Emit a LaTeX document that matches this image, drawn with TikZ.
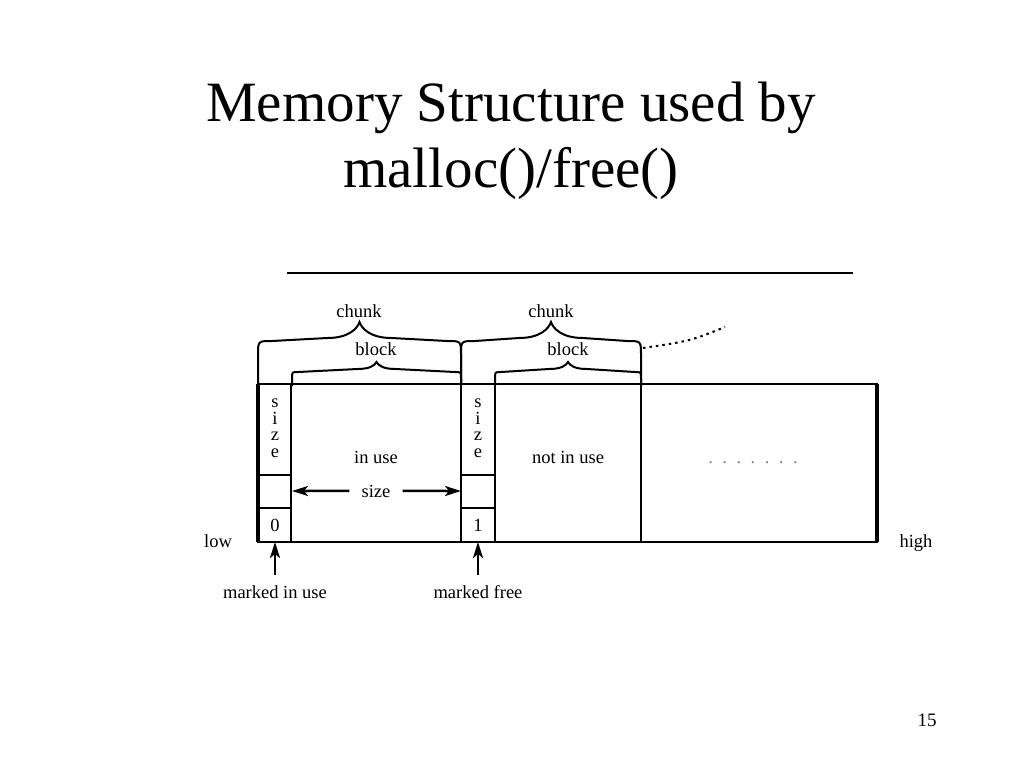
\documentclass[tikz,border=0pt]{standalone}
\usepackage{fontspec}
\setmainfont{Liberation Serif}
\usetikzlibrary{arrows.meta}
\tikzset{
  lbl/.style={inner sep=0pt, anchor=base, font=\fontsize{18.5}{16.5}\selectfont},
  arr/.style={line width=2.5pt, -{Stealth[length=16pt,width=10pt,inset=4pt]}},
  wall/.style={line width=2.2pt},
}
% brace: left x, right x, foot y, shoulder y, tip y, corner, tip width
\newcommand{\membrace}[7]{%
  \draw[line width=2pt] (#1,#3) -- (#1,#4+#6) .. controls (#1,#4) .. (#1+#6,#4)
    -- ({(#1+#2)/2-#7},#4-3) .. controls ({(#1+#2)/2-#7/3},#4-3) and ({(#1+#2)/2-2},{#5+(#4-#5)/3}) .. ({(#1+#2)/2},#5)
    .. controls ({(#1+#2)/2+2},{#5+(#4-#5)/3}) and ({(#1+#2)/2+#7/3},#4-3) .. ({(#1+#2)/2+#7},#4-3)
    -- (#2-#6,#4) .. controls (#2,#4) .. (#2,#4+#6) -- (#2,#3);}
\newcommand{\dotrow}{.\hskip9.5pt.\hskip9.5pt.\hskip9.5pt.\hskip9.5pt.\hskip9.5pt.\hskip9.5pt.}
\begin{document}
\begin{tikzpicture}[x=1pt,y=-1pt]
  \useasboundingbox[fill=white] (0,0) rectangle (1024,768);
  \node (title) [align=center, font=\fontsize{57}{66}\selectfont] at (511,141)
    {Memory Structure used by\\malloc()/free()};
  \draw[line width=2.5pt] (287,273) -- (853,273);
  %
  \membrace{258}{461}{384}{341}{322}{14}{32}
  \membrace{461}{641}{384}{341}{322}{14}{32}
  \membrace{292}{461}{386}{372}{362}{6}{19}
  \membrace{495}{641}{386}{372}{362}{6}{19}
  \draw[line width=2pt, dash pattern=on 2.5pt off 4pt] (643,348) .. controls (690,341) .. (725,327);
  \node (chunka) [lbl] at (359,317) {chunk};
  \node (chunkb) [lbl] at (551,317) {chunk};
  \node (blocka) [lbl] at (376,355) {block};
  \node (blockb) [lbl] at (568,355) {block};
  %
  \draw[line width=1.5pt] (258,384) rectangle (877,542);
  \draw[line width=4pt] (258,384) -- (258,542);
  \draw[line width=4pt] (877,384) -- (877,542);
  \draw[wall] (291,384) -- (291,542);
  \draw[wall] (461,384) -- (461,542);
  \draw[wall] (495,384) -- (495,542);
  \draw[wall] (641,384) -- (641,542);
  \draw[line width=2pt] (258,475) -- (291,475) (461,475) -- (495,475);
  \draw[line width=1.2pt] (258,508) -- (291,508) (461,508) -- (495,508);
  %
  \node (sizea) [lbl, anchor=center, align=center] at (275,428) {s\\i\\z\\e};
  \node (sizeb) [lbl, anchor=center, align=center] at (478,428) {s\\i\\z\\e};
  \node (flaga) [lbl] at (275,531) {0};
  \node (flagb) [lbl] at (478,531) {1};
  \node (inuse) [lbl] at (376,463) {in use};
  \node (notinuse) [lbl] at (568,463) {not in use};
  \node (more) [lbl, text=gray] at (753,463) {\dotrow};
  \node (low) [lbl] at (218,547) {low};
  \node (high) [lbl] at (916,547) {high};
  %
  \node (size) [lbl] at (376,497) {size};
  \coordinate (enda) at (292,491);
  \coordinate (endb) at (461,491);
  \draw[arr, shorten <=12pt] (size.west) -- (enda);
  \draw[arr, shorten <=12pt] (size.east) -- (endb);
  %
  \node (markuse) [lbl] at (275,598) {marked in use};
  \node (markfree) [lbl] at (478,598) {marked free};
  \coordinate (bita) at (275,542);
  \coordinate (bitb) at (478,542);
  \draw[arr, shorten <=10pt] (markuse.north) -- (bita);
  \draw[arr, shorten <=10pt] (markfree.north) -- (bitb);
  %
  \node (page) [lbl, font=\fontsize{19}{19}\selectfont] at (927,726) {15};
\end{tikzpicture}
\end{document}
